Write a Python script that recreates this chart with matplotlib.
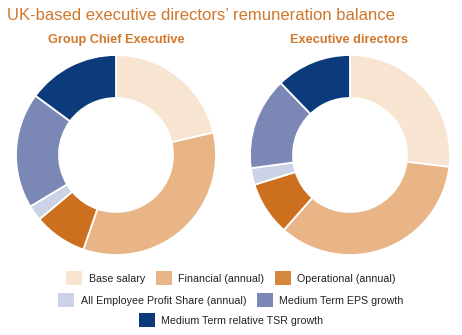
import matplotlib
matplotlib.use("Agg")
import matplotlib.pyplot as plt
from matplotlib.patches import Patch

plt.rcParams["font.family"] = ["Liberation Sans", "DejaVu Sans"]

categories = [
    "Base salary",
    "Financial (annual)",
    "Operational (annual)",
    "All Employee Profit Share (annual)",
    "Medium Term EPS growth",
    "Medium Term relative TSR growth",
]
colors = ["#F8E5D1", "#E9B587", "#CC6F1F", "#CDD3E7", "#7B88B6", "#0B3B7B"]
legend_colors = ["#F8E5D1", "#E9B587", "#D6873E", "#CDD3E7", "#7B88B6", "#0B3B7B"]

group_ce = [21.4, 33.9, 8.6, 2.5, 18.7, 14.9]
exec_dirs = [26.9, 34.6, 8.7, 2.7, 14.9, 12.2]

title_color = "#D0772B"

fig = plt.figure(figsize=(4.62, 3.35), dpi=100)

fig.text(7 / 462, 1 - 15 / 335, "UK-based executive directors\u2019 remuneration balance",
         color=title_color, fontsize=12, va="center", ha="left")


def donut(rect, values, title, title_x):
    ax = fig.add_axes(rect)
    ax.pie(values, colors=colors, startangle=90, counterclock=False, radius=1,
           wedgeprops=dict(width=0.43, edgecolor="white", linewidth=1.3))
    ax.set_xlim(-1, 1)
    ax.set_ylim(-1, 1)
    ax.set_aspect("equal")
    ax.axis("off")
    fig.text(title_x, 1 - 40 / 335, title, color=title_color, fontsize=9.2,
             fontweight="bold", ha="center", va="center")


donut([16 / 462, 80 / 335, 200 / 462, 200 / 335], group_ce, "Group Chief Executive", 116 / 462)
donut([250 / 462, 80 / 335, 200 / 462, 200 / 335], exec_dirs, "Executive directors", 349 / 462)

handles = [Patch(facecolor=c, edgecolor="none") for c in legend_colors]
rows = [(0, 3, 278), (3, 5, 300), (5, 6, 320)]
for start, stop, y in rows:
    fig.legend(handles[start:stop], categories[start:stop], ncol=stop - start,
               loc="center", bbox_to_anchor=(0.5, 1 - y / 335), frameon=False,
               fontsize=7.7, handlelength=1.5, handleheight=1.5, handletextpad=0.6,
               columnspacing=1.0, borderpad=0, labelcolor="#222222")

fig.savefig("out.png", dpi=100)
